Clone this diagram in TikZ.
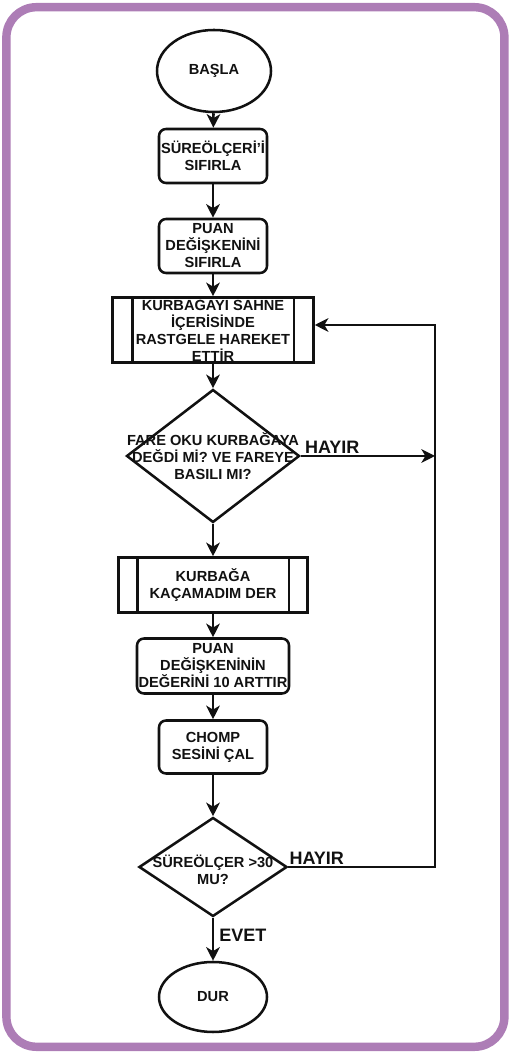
\documentclass[tikz,border=0pt]{standalone}
\usepackage{fontspec}
\setmainfont{Liberation Sans}
\usetikzlibrary{arrows.meta,positioning,shapes.geometric}
\definecolor{Ink}{HTML}{111111}
\definecolor{Frame}{HTML}{AD7DB6}
\newcommand\flowfont{\fontsize{10.4pt}{12.1pt}\selectfont\bfseries}
\newcommand\tagfont{\fontsize{12.8pt}{14pt}\selectfont\bfseries}
\tikzset{
  terminal/.style={ellipse,draw=Ink,line width=1.8pt,minimum width=2.85cm,minimum height=2.05cm,inner sep=0pt,font=\flowfont,text=Ink},
  stepbox/.style={draw=Ink,line width=1.8pt,rounded corners=5pt,minimum width=2.7cm,minimum height=1.35cm,inner sep=0pt,align=center,font=\flowfont,text=Ink},
  subproc/.style={stepbox,rounded corners=0pt},
  decision/.style={diamond,draw=Ink,line width=1.8pt,inner sep=0pt},
  flowtext/.style={align=center,font=\flowfont,text=Ink,inner sep=0pt},
  tag/.style={font=\tagfont,text=Ink,inner sep=0pt},
  arrow/.style={-{Stealth[length=3.4mm,width=3.4mm,inset=1mm]},line width=1.8pt,draw=Ink},
  link/.style={line width=1.8pt,draw=Ink}
}

\begin{document}
\begin{tikzpicture}[x=1cm,y=1cm]
  \useasboundingbox (0,0) rectangle (12.75,26.35);
  % purple frame
  \draw[Frame,line width=6pt,rounded corners=0.75cm] (0.16,0.18) rectangle (12.61,26.17);

  % main column
  \node[terminal] (start) at (5.35,24.575) {BAŞLA};
  \node[stepbox] (resetTimer) at (5.325,22.45) {SÜREÖLÇERİ'İ\\SIFIRLA};
  \node[stepbox] (resetScore) at (5.325,20.2) {PUAN\\DEĞİŞKENİNİ\\SIFIRLA};
  \node[subproc,minimum width=5.025cm,minimum height=1.625cm] (move) at (5.325,18.1) {KURBAĞAYI SAHNE\\İÇERİSİNDE\\RASTGELE HAREKET\\ETTİR};
  \node[decision,minimum width=4.325cm,minimum height=3.325cm] (check) at (5.325,14.95) {};
  \node[flowtext] at (check) {FARE OKU KURBAĞAYA\\DEĞDİ Mİ? VE FAREYE\\BASILI MI?};
  \node[subproc,minimum width=4.725cm,minimum height=1.375cm] (say) at (5.325,11.725) {KURBAĞA\\KAÇAMADIM DER};
  \node[stepbox,minimum width=3.8cm,minimum height=1.375cm] (addScore) at (5.325,9.7) {PUAN\\DEĞİŞKENİNİN\\DEĞERİNİ 10 ARTTIR};
  \node[stepbox,minimum height=1.325cm] (chomp) at (5.325,7.675) {CHOMP\\SESİNİ ÇAL};
  \node[decision,minimum width=3.7cm,minimum height=2.475cm] (timer) at (5.325,4.675) {};
  \node[flowtext] at ([yshift=-0.06cm]timer) {SÜREÖLÇER >30\\MU?};
  \node[terminal,minimum width=2.7cm,minimum height=1.75cm] (stop) at (5.325,1.425) {DUR};

  % double side bars of the sub-process boxes
  \foreach \n/\s in {move/0.525,say/0.5}{
    \draw[link] ([xshift=\s cm]\n.north west) -- ([xshift=\s cm]\n.south west);
    \draw[link] ([xshift=-\s cm]\n.north east) -- ([xshift=-\s cm]\n.south east);
  }

  \draw[arrow] (start) -- (resetTimer);
  \draw[arrow] (resetTimer) -- (resetScore);
  \draw[arrow] (resetScore) -- (move);
  \draw[arrow] (move) -- (check);
  \draw[arrow] (check) -- (say);
  \draw[arrow] (say) -- (addScore);
  \draw[arrow] (addScore) -- (chomp);
  \draw[arrow] (chomp) -- (timer);
  \draw[arrow] (timer) -- node[tag,anchor=west,pos=.4,xshift=0.125cm] {EVET} (stop);

  % loop back
  \coordinate (loopTop) at (10.875,18.225);
  \draw[arrow] (check.east) -- node[tag,anchor=south west,pos=0,xshift=0.075cm,yshift=0.04cm] {HAYIR} (check.east -| loopTop);
  \draw[arrow] (timer.east) -- node[tag,anchor=south west,pos=0,yshift=0.04cm] {HAYIR} (timer.east -| loopTop) -- (loopTop) -- (loopTop -| move.east);
\end{tikzpicture}
\end{document}
